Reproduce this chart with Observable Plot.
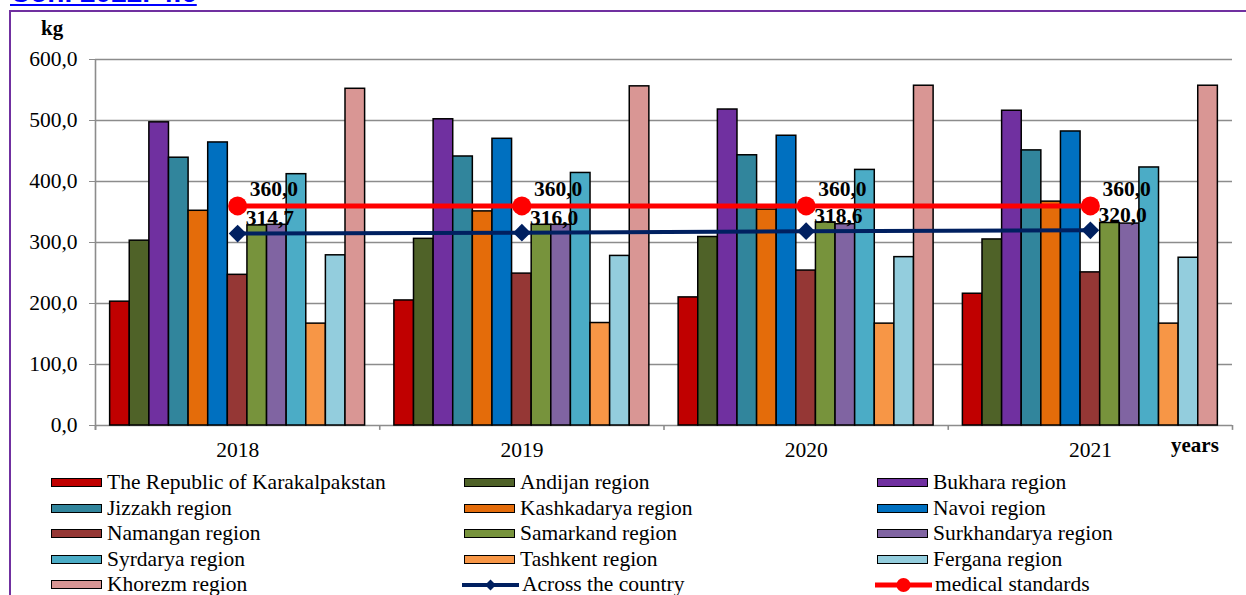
<!DOCTYPE html>
<html>
<head>
<meta charset="utf-8">
<script src="https://cdn.jsdelivr.net/npm/d3@7"></script>
<script src="https://cdn.jsdelivr.net/npm/@observablehq/plot@0.6"></script>
<style>
  body { margin:0; background:#fff; width:1246px; height:595px; overflow:hidden; position:relative;
         font-family:"Liberation Serif","Times New Roman",serif; }
  #frame { position:absolute; left:9px; top:10px; width:1260px; height:620px; border:2px solid #7030A0; box-sizing:border-box; }
  #head { position:absolute; left:10px; top:-23px; font:bold 28px "Liberation Sans",Arial,sans-serif; color:#0000ff;
          text-decoration:underline; white-space:nowrap; }
  .layer { position:absolute; left:0; top:0; }
  .bg text { fill:#000; }
  #kg { position:absolute; left:41px; top:16px; font-weight:bold; font-size:21px; line-height:24px; }
  #years { position:absolute; left:1171px; top:433px; font-weight:bold; font-size:21px; line-height:24px; }
  #legend { position:absolute; left:51px; top:470px; display:grid; grid-template-columns:413px 413px 413px; }
  .item { height:25.5px; display:flex; align-items:center; font-size:21.5px; white-space:nowrap; }
  .sw { display:inline-block; width:49px; height:7px; border:1.5px solid #000; margin-right:5px; }
  .lsw { margin-right:3px; margin-left:-2px; }
</style>
</head>
<body>
<div id="head">Con. 2022. 4.6</div>
<div id="frame"></div>
<div id="chart"></div>
<div id="kg">kg</div>
<div id="years">years</div>
<div id="legend"></div>
<script>
// ---- data ----
const years = ["2018", "2019", "2020", "2021"];
const regions = [
  "The Republic of Karakalpakstan", "Andijan region", "Bukhara region",
  "Jizzakh region", "Kashkadarya region", "Navoi region",
  "Namangan region", "Samarkand region", "Surkhandarya region",
  "Syrdarya region", "Tashkent region", "Fergana region",
  "Khorezm region"
];
const regionColors = [
  "#C00000", "#4F6228", "#7030A0",
  "#31859C", "#E46C0A", "#0070C0",
  "#953735", "#77933C", "#8064A2",
  "#4BACC6", "#F79646", "#93CDDD",
  "#D99694"
];
const values2018 = [203, 303, 497, 439, 352, 464, 247, 328, 329, 412, 167, 279, 552];
const values2019 = [205, 306, 502, 441, 351, 470, 249, 329, 329, 414, 168, 278, 556];
const values2020 = [210, 309, 518, 443, 354, 475, 254, 333, 330, 419, 167, 276, 557];
const values2021 = [216, 305, 516, 451, 367, 482, 251, 332, 331, 423, 167, 275, 557];
const countryValues = [314.7, 316.0, 318.6, 320.0];
const medicalValues = [360.0, 360.0, 360.0, 360.0];
const yTicks = [0, 100, 200, 300, 400, 500, 600];
const countryLabel = "Across the country";
const medicalLabel = "medical standards";

// ---- tables ----
const seriesByYear = [values2018, values2019, values2020, values2021];
const rows = years.flatMap((y, i) => regions.map((r, j) => ({year: y, region: r, value: seriesByYear[i][j]})));
const lineRows = years.map((y, i) => ({year: y, country: countryValues[i], medical: medicalValues[i]}));
const fmt = d => d.toFixed(1).replace(".", ",");

// ---- layout ----
const W = 1246, H = 470, ML = 95, MR = 14, MT = 59, MB = 45;
const step = (W - ML - MR) / years.length;
const pIn = 0.103;
const font = '"Liberation Serif","Times New Roman",serif';
const grey = "#8c8c8c";
const common = {width: W, height: H, marginLeft: ML, marginRight: MR, marginTop: MT, marginBottom: MB};
const xYears = {type: "band", domain: years, padding: 0, round: false};

// background: grid + axes
const bg = Plot.plot({
  ...common,
  style: {background: "transparent", color: grey, fontFamily: font, fontSize: "21.5px"},
  x: {...xYears, tickSize: 0, tickPadding: 16, label: null},
  y: {domain: [0, 600], ticks: yTicks, tickFormat: fmt, tickSize: 6, tickPadding: 12, label: null},
  marks: [
    Plot.ruleY(yTicks, {stroke: grey, strokeWidth: 1.6}),
    Plot.ruleX([years[0]], {y1: -8, y2: 600, dx: -step / 2, stroke: grey, strokeWidth: 1.6}),
    Plot.ruleX(years, {y1: 0, y2: -8, dx: -step / 2, stroke: grey, strokeWidth: 1.6}),
    Plot.ruleX([years[years.length - 1]], {y1: 0, y2: -8, dx: step / 2, stroke: grey, strokeWidth: 1.6})
  ]
});
bg.classList.add("layer", "bg");

// bars (faceted by year)
const bars = Plot.plot({
  ...common,
  style: {background: "transparent"},
  facet: {data: rows, x: "year"},
  fx: {domain: years, paddingInner: pIn, paddingOuter: pIn / 2, round: false, axis: null, label: null},
  x: {domain: regions, padding: 0, round: false, axis: null},
  y: {domain: [0, 600], axis: null},
  color: {domain: regions, range: regionColors},
  marks: [
    Plot.barY(rows, {x: "region", y: "value", fill: "region", stroke: "#000", strokeWidth: 1.5})
  ]
});
bars.classList.add("layer");

// lines on top
const lines = Plot.plot({
  ...common,
  style: {background: "transparent", fontFamily: font},
  x: {...xYears, axis: null},
  y: {domain: [0, 600], axis: null},
  marks: [
    Plot.line(lineRows, {x: "year", y: "country", stroke: "#002060", strokeWidth: 4}),
    Plot.dot(lineRows, {x: "year", y: "country", symbol: "diamond2", r: 8, fill: "#002060", stroke: "none"}),
    Plot.line(lineRows, {x: "year", y: "medical", stroke: "#FF0000", strokeWidth: 5}),
    Plot.dot(lineRows, {x: "year", y: "medical", r: 9.5, fill: "#FF0000", stroke: "none"}),
    Plot.text(lineRows, {x: "year", y: "medical", text: d => fmt(d.medical), dx: 12, dy: -17,
      textAnchor: "start", fontWeight: "bold", fontSize: 21.5, fill: "#000"}),
    Plot.text(lineRows, {x: "year", y: "country", text: d => fmt(d.country), dx: 8, dy: -15,
      textAnchor: "start", fontWeight: "bold", fontSize: 21.5, fill: "#000"})
  ]
});
lines.classList.add("layer");

const chart = document.getElementById("chart");
chart.append(bg, bars, lines);

// legend
const legend = document.getElementById("legend");
const items = regions.map((r, i) => ({label: r, color: regionColors[i], kind: "bar"}));
items.push({label: countryLabel, color: "#002060", kind: "diamond"});
items.push({label: medicalLabel, color: "#FF0000", kind: "circle"});
for (const it of items) {
  const div = document.createElement("div");
  div.className = "item";
  if (it.kind === "bar") {
    const sw = document.createElement("span");
    sw.className = "sw";
    sw.style.background = it.color;
    div.append(sw);
  } else {
    const ns = "http://www.w3.org/2000/svg";
    const svg = document.createElementNS(ns, "svg");
    svg.setAttribute("width", 57); svg.setAttribute("height", 16);
    svg.classList.add("lsw");
    const ln = document.createElementNS(ns, "line");
    ln.setAttribute("x1", 0); ln.setAttribute("x2", 57); ln.setAttribute("y1", 8); ln.setAttribute("y2", 8);
    ln.setAttribute("stroke", it.color); ln.setAttribute("stroke-width", it.kind === "circle" ? 5 : 4);
    svg.append(ln);
    if (it.kind === "circle") {
      const c = document.createElementNS(ns, "circle");
      c.setAttribute("cx", 28.5); c.setAttribute("cy", 8); c.setAttribute("r", 7); c.setAttribute("fill", it.color);
      svg.append(c);
    } else {
      const p = document.createElementNS(ns, "path");
      p.setAttribute("d", "M28.5,2.5L34,8L28.5,13.5L23,8Z"); p.setAttribute("fill", it.color);
      svg.append(p);
    }
    div.append(svg);
  }
  const t = document.createElement("span");
  t.textContent = it.label;
  div.append(t);
  legend.append(div);
}
</script>
</body>
</html>
